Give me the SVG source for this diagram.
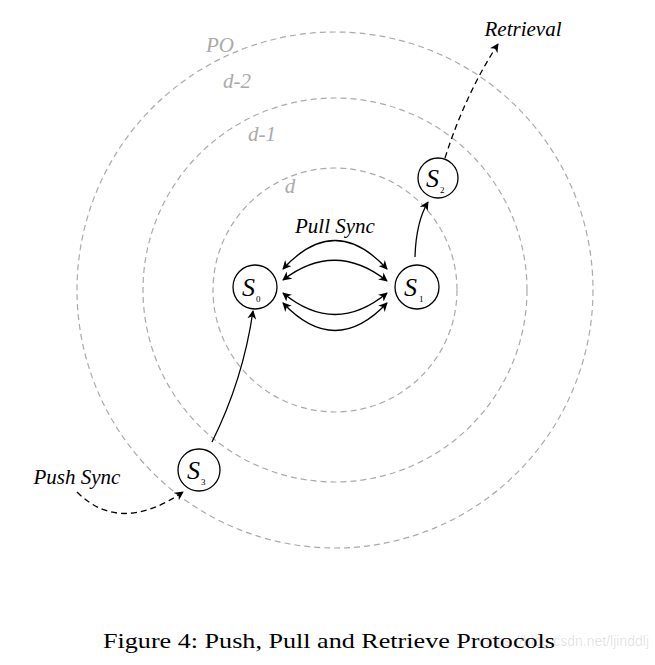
<svg xmlns="http://www.w3.org/2000/svg" width="655" height="665" viewBox="0 0 655 665">
<style>
.ring{fill:none;stroke:#aaa;stroke-width:1.2;stroke-dasharray:6 4}
.rl{font-family:"Liberation Serif",serif;font-style:italic;font-size:21px;fill:#aaa}
.node{fill:#fff;stroke:#000;stroke-width:1.3}
.s{font-family:"Liberation Serif",serif;font-style:italic;font-size:26px;fill:#000}
.sub{font-family:"Liberation Serif",serif;font-size:9px;fill:#000}
.lbl{font-family:"Liberation Serif",serif;font-style:italic;font-size:21px;fill:#000}
.e{fill:none;stroke:#000;stroke-width:1.3}
.d{stroke-dasharray:6 4}
</style>
<defs>
<marker id="ah" viewBox="0 0 10 10" refX="9" refY="5" markerWidth="9" markerHeight="9" markerUnits="userSpaceOnUse" orient="auto-start-reverse">
<path d="M0,0 L10,5 L0,10 L3,5 Z" fill="#000"/>
</marker>
</defs>
<rect width="655" height="665" fill="#fff"/>
<g id="rings">
<circle class="ring" cx="335" cy="290" r="122"/>
<circle class="ring" cx="335" cy="290" r="192"/>
<circle class="ring" cx="335" cy="290" r="258"/>
<text class="rl" x="220" y="52" text-anchor="middle">PO</text>
<text class="rl" x="237" y="88" text-anchor="middle">d-2</text>
<text class="rl" x="262" y="141" text-anchor="middle">d-1</text>
<text class="rl" x="290" y="193" text-anchor="middle">d</text>
</g>
<g id="connectors">
<path class="e" d="M283,269 Q335,212 387,269" marker-start="url(#ah)" marker-end="url(#ah)"/>
<path class="e" d="M283,280 Q335,240 387,281" marker-start="url(#ah)" marker-end="url(#ah)"/>
<path class="e" d="M283,293 Q335,336 387,293" marker-start="url(#ah)" marker-end="url(#ah)"/>
<path class="e" d="M283,303 Q335,358 387,303" marker-start="url(#ah)" marker-end="url(#ah)"/>
<path class="e" d="M415,257 Q416,222 428,202" marker-end="url(#ah)"/>
<path class="e" d="M212,442 Q243,380 253,311" marker-end="url(#ah)"/>
<path class="e d" d="M445,158 Q465,95 498,44" marker-end="url(#ah)"/>
<path class="e d" d="M77,492 Q120,535 183,492" marker-end="url(#ah)"/>
</g>
<g id="S0">
<circle class="node" cx="255" cy="287" r="22"/>
<text class="s" x="242" y="296">S</text><text class="sub" x="256" y="302">0</text>
</g>
<g id="S1">
<circle class="node" cx="417" cy="287" r="22"/>
<text class="s" x="404" y="296">S</text><text class="sub" x="419" y="302">1</text>
</g>
<g id="S2">
<circle class="node" cx="438" cy="178" r="20"/>
<text class="s" x="426" y="187">S</text><text class="sub" x="440" y="193">2</text>
</g>
<g id="S3">
<circle class="node" cx="199" cy="470" r="21"/>
<text class="s" x="187" y="479">S</text><text class="sub" x="201" y="485">3</text>
</g>
<g id="labels">
<text class="lbl" x="335" y="233" text-anchor="middle">Pull Sync</text>
<text class="lbl" x="523" y="36" text-anchor="middle">Retrieval</text>
<text class="lbl" x="77" y="484" text-anchor="middle">Push Sync</text>
</g>
<text x="329" y="648" text-anchor="middle" font-family="Liberation Serif, serif" font-size="21" fill="#000" textLength="452" lengthAdjust="spacingAndGlyphs">Figure 4: Push, Pull and Retrieve Protocols</text>
<text x="649" y="646" text-anchor="end" font-family="Liberation Sans, sans-serif" font-size="14" fill="#000" fill-opacity="0.12">https://blog.csdn.net/ljinddlj</text>
</svg>
